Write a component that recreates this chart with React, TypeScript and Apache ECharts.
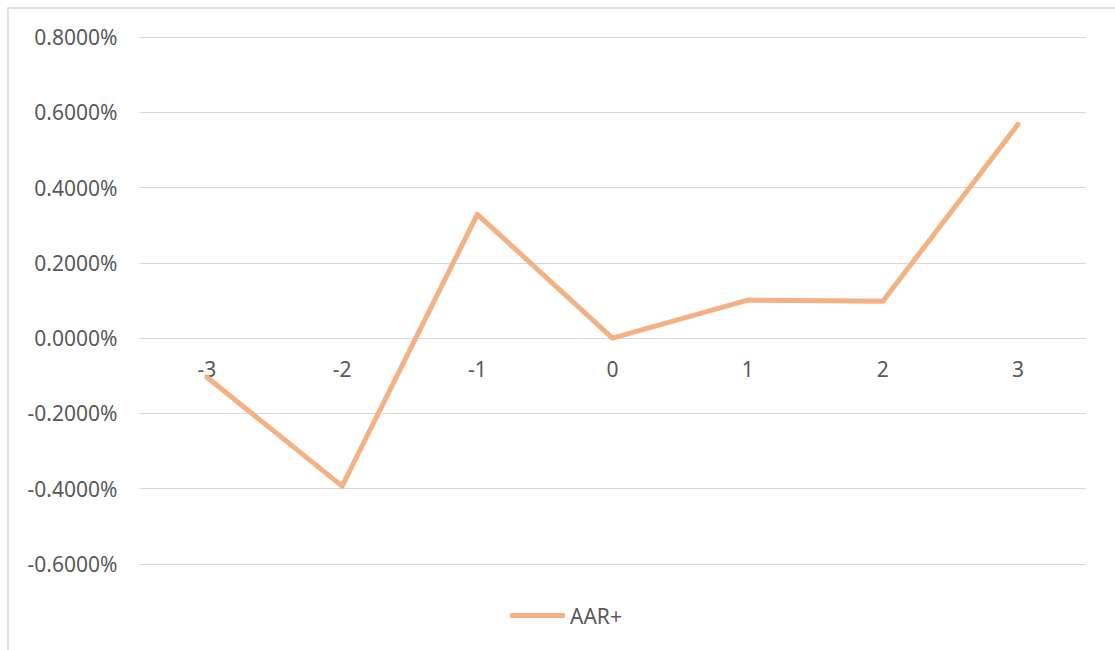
import React, { useEffect, useRef } from "react";
import * as echarts from "echarts";

const categories = ["-3", "-2", "-1", "0", "1", "2", "3"];
const aarPlus = [-0.104, -0.393, 0.329, 0.0, 0.101, 0.098, 0.568];
const seriesName = "AAR+";

export default function App() {
  const ref = useRef<HTMLDivElement>(null);
  useEffect(() => {
    if (!ref.current) return;
    const chart = echarts.init(ref.current, null, { renderer: "svg" });
    const font = "'Noto Sans', 'Open Sans', sans-serif";
    chart.setOption({
      animation: false,
      backgroundColor: "#ffffff",
      graphic: [
        {
          type: "rect",
          shape: { x: 8, y: 8, width: 1400, height: 900 },
          style: { fill: "none", stroke: "#d9d9d9", lineWidth: 1.5 },
          silent: true,
        },
      ],
      grid: { left: 139.4, right: 29.4, top: 37, bottom: 86, containLabel: false },
      legend: {
        data: [{ name: seriesName, icon: "roundRect" }],
        left: 505,
        top: 600,
        itemWidth: 55,
        itemHeight: 5,
        itemGap: 10,
        textStyle: { color: "#595959", fontSize: 21, fontFamily: font },
      },
      xAxis: {
        type: "category",
        data: categories,
        boundaryGap: true,
        position: "bottom",
        offset: -226,
        axisLine: { show: true, onZero: false, lineStyle: { color: "#d9d9d9", width: 1 } },
        axisTick: { show: false },
        axisLabel: { color: "#595959", fontSize: 21, fontFamily: font, margin: 20 },
        splitLine: { show: false },
      },
      yAxis: {
        type: "value",
        min: -0.6,
        max: 0.8,
        interval: 0.2,
        axisLine: { show: false },
        axisTick: { show: false },
        axisLabel: {
          color: "#595959",
          fontSize: 21,
          fontFamily: font,
          margin: 22,
          formatter: (v: number) => v.toFixed(4) + "%",
        },
        splitLine: { show: true, lineStyle: { color: "#d9d9d9", width: 1 } },
      },
      series: [
        {
          name: seriesName,
          type: "line",
          data: aarPlus,
          symbol: "none",
          lineStyle: { color: "#F4B183", width: 5, cap: "round", join: "round" },
          itemStyle: { color: "#F4B183" },
          z: 3,
        },
      ],
    });
    return () => chart.dispose();
  }, []);
  return (
    <div
      ref={ref}
      style={{ position: "fixed", left: 0, top: 0, width: 1115, height: 650 }}
    />
  );
}
